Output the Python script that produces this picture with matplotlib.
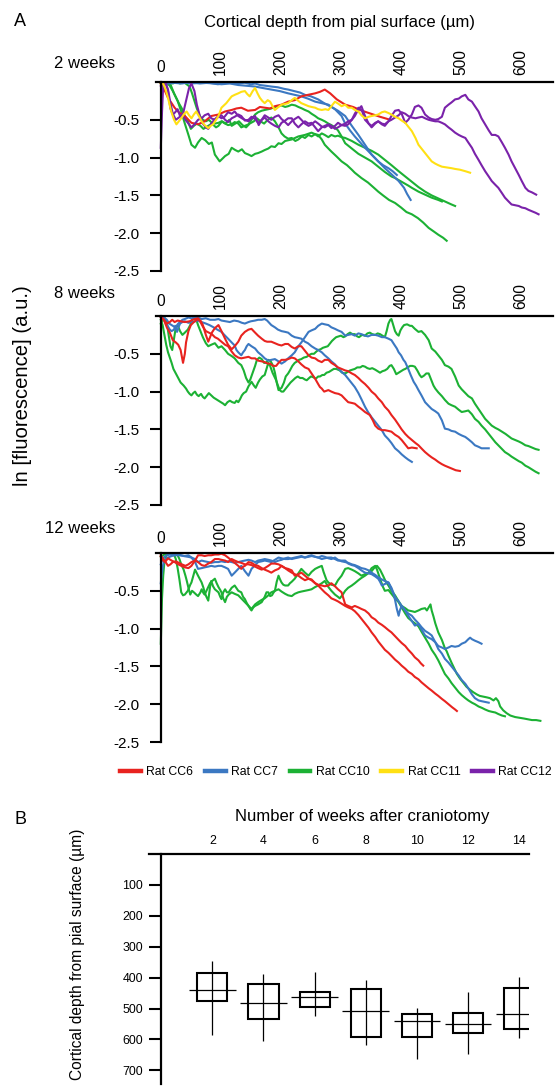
import numpy as np
import matplotlib
matplotlib.use("Agg")
import matplotlib.pyplot as plt
from matplotlib.patches import Rectangle

plt.rcParams['font.family'] = ['Liberation Sans', 'DejaVu Sans']
plt.rcParams['axes.unicode_minus'] = False

# ---------------- data (depth in µm, ln fluorescence) ----------------
RATS = ['Rat CC6', 'Rat CC7', 'Rat CC10', 'Rat CC11', 'Rat CC12']
RAT_COLORS = ['#E8231F', '#3B78C2', '#1CB134', '#FFE014', '#7A22AA']
PANEL_TITLES = ['2 weeks', '8 weeks', '12 weeks']
DEPTH_TICKS = [0, 100, 200, 300, 400, 500, 600]
LN_TICKS = [-0.5, -1.0, -1.5, -2.0, -2.5]

W2_CC6 = [(0,-0.02),(3,-0.05),(7,-0.12),(12,-0.21),(18,-0.28),(23,-0.34),(30,-0.40),(40,-0.45),(51,-0.54),(62,-0.56),
          (73,-0.52),(84,-0.45),(96,-0.43),(107,-0.39),(118,-0.37),(126,-0.35),(134,-0.34),(145,-0.38),(157,-0.37),(165,-0.33),
          (173,-0.34),(182,-0.35),(190,-0.32),(201,-0.30),(212,-0.26),(223,-0.24),(234,-0.19),(245,-0.17),(257,-0.15),(265,-0.13),
          (273,-0.10),(282,-0.15),(293,-0.23),(307,-0.30),(320,-0.33),(335,-0.38),(350,-0.42),(365,-0.46),(382,-0.50)]
W2_CC7_A = [(0,-0.02),(10,0.0),(20,-0.01),(35,-0.02),(50,0.0),(65,-0.02),(80,-0.01),(95,-0.03),(110,-0.01),(125,-0.02),
            (140,-0.01),(150,-0.03),(157,-0.02),(165,-0.04),(175,-0.05),(184,-0.06),(195,-0.07),(205,-0.09),(212,-0.10),(222,-0.12),
            (232,-0.14),(240,-0.17),(250,-0.19),(262,-0.23),(272,-0.28),(284,-0.33),(295,-0.38),(307,-0.45),(318,-0.58),(329,-0.70),
            (340,-0.83),(351,-0.96),(362,-1.05),(373,-1.14),(384,-1.22),(396,-1.31),(405,-1.40),(410,-1.48),(416,-1.56)]
W2_CC7_B = [(0,-0.01),(15,-0.02),(30,0.0),(50,-0.02),(70,-0.01),(90,-0.02),(101,-0.03),(115,-0.02),(129,-0.04),(143,-0.05),
            (157,-0.06),(170,-0.08),(184,-0.10),(198,-0.12),(212,-0.15),(223,-0.17),(234,-0.19),(245,-0.22),(257,-0.26),(268,-0.28),
            (279,-0.30),(290,-0.36),(301,-0.45),(307,-0.55),(315,-0.64),(323,-0.72),(332,-0.80),(340,-0.87),(351,-0.96),(362,-1.05),
            (370,-1.10),(379,-1.14),(386,-1.18),(393,-1.23)]
W2_CC10_A = [(0,0.0),(5,-0.02),(10,0.0),(16,-0.03),(22,-0.15),(28,-0.25),(34,-0.39),(40,-0.55),(46,-0.70),(51,-0.83),
             (57,-0.87),(62,-0.80),(68,-0.74),(74,-0.77),(80,-0.82),(85,-0.80),(90,-0.96),(98,-1.05),(107,-0.98),(113,-0.95),
             (118,-0.87),(124,-0.90),(129,-0.92),(135,-0.89),(140,-0.94),(146,-0.96),(151,-0.98),(157,-0.95),(162,-0.94),(168,-0.92),
             (173,-0.90),(179,-0.88),(184,-0.85),(190,-0.86),(196,-0.81),(201,-0.82),(207,-0.78),(218,-0.76),(229,-0.72),(240,-0.70),
             (251,-0.67),(257,-0.69),(262,-0.70),(268,-0.76),(273,-0.83),(279,-0.88),(284,-0.92),(292,-0.98),(301,-1.05),(310,-1.10),
             (318,-1.16),(323,-1.20),(334,-1.27),(345,-1.33),(355,-1.40),(362,-1.45),(370,-1.50),(380,-1.56),(390,-1.60),(400,-1.66),
             (409,-1.72),(418,-1.75),(428,-1.80),(437,-1.86),(446,-1.93),(455,-1.98),(462,-2.02),(470,-2.06),(476,-2.10)]
W2_CC10_B = [(0,0.0),(5,-0.02),(10,-0.01),(15,-0.05),(20,-0.12),(25,-0.20),(30,-0.28),(35,-0.35),(40,-0.45),(45,-0.52),
             (50,-0.62),(55,-0.58),(60,-0.55),(66,-0.58),(71,-0.62),(77,-0.59),(85,-0.55),(92,-0.60),(96,-0.58),(102,-0.52),
             (108,-0.55),(114,-0.50),(118,-0.58),(124,-0.55),(130,-0.52),(136,-0.57),(142,-0.60),(148,-0.55),(155,-0.52),(160,-0.48),
             (166,-0.52),(172,-0.55),(178,-0.50),(184,-0.47),(190,-0.52),(196,-0.60),(201,-0.68),(206,-0.72),(212,-0.75),(218,-0.74),
             (224,-0.78),(229,-0.76),(235,-0.72),(240,-0.74),(246,-0.70),(251,-0.72),(257,-0.69),(262,-0.72),(268,-0.68),(273,-0.70),
             (279,-0.73),(284,-0.70),(290,-0.72),(295,-0.71),(301,-0.73),(307,-0.74),(318,-0.78),(329,-0.83),(340,-0.87),(351,-0.91),
             (362,-0.96),(373,-1.03),(384,-1.10),(396,-1.18),(407,-1.25),(418,-1.32),(429,-1.39),(440,-1.45),(451,-1.50),(462,-1.54),
             (473,-1.58),(484,-1.62),(490,-1.64)]
W2_CC10_C = [(0,-0.02),(5,0.0),(10,-0.01),(15,0.0),(20,-0.02),(26,0.0),(32,-0.02),(38,0.0),(43,-0.03),(48,-0.06),
             (52,-0.15),(56,-0.25),(60,-0.35),(65,-0.45),(70,-0.50),(75,-0.52),(80,-0.50),(85,-0.54),(90,-0.55),(96,-0.54),
             (101,-0.52),(107,-0.55),(112,-0.57),(118,-0.56),(123,-0.53),(129,-0.55),(134,-0.60),(140,-0.58),(146,-0.56),(151,-0.50),
             (157,-0.43),(162,-0.40),(168,-0.38),(173,-0.37),(179,-0.36),(184,-0.35),(190,-0.33),(196,-0.32),(201,-0.31),(207,-0.33),
             (212,-0.32),(218,-0.30),(224,-0.31),(229,-0.33),(235,-0.35),(240,-0.37),(246,-0.39),(251,-0.42),(257,-0.45),(262,-0.48),
             (268,-0.50),(273,-0.52),(279,-0.55),(284,-0.57),(290,-0.60),(295,-0.64),(301,-0.72),(307,-0.81),(318,-0.88),(329,-0.95),
             (340,-1.00),(351,-1.05),(362,-1.12),(373,-1.19),(384,-1.25),(390,-1.27),(401,-1.32),(412,-1.37),(418,-1.40),(429,-1.45),
             (440,-1.49),(451,-1.53),(462,-1.56),(468,-1.58)]
W2_CC11 = [(0,-0.02),(4,-0.02),(8,-0.10),(12,-0.21),(17,-0.38),(22,-0.50),(26,-0.56),(30,-0.52),(34,-0.48),(39,-0.42),
           (43,-0.39),(47,-0.44),(51,-0.48),(55,-0.43),(59,-0.39),(64,-0.46),(68,-0.52),(73,-0.57),(79,-0.61),(83,-0.58),
           (87,-0.56),(92,-0.50),(96,-0.45),(101,-0.34),(105,-0.31),(109,-0.28),(114,-0.23),(118,-0.19),(123,-0.17),(129,-0.15),
           (134,-0.13),(140,-0.12),(144,-0.16),(148,-0.19),(153,-0.12),(157,-0.08),(161,-0.15),(165,-0.21),(169,-0.25),(173,-0.28),
           (178,-0.24),(182,-0.26),(186,-0.32),(190,-0.37),(196,-0.33),(201,-0.30),(207,-0.29),(212,-0.28),(218,-0.24),(223,-0.21),
           (229,-0.25),(234,-0.28),(240,-0.30),(246,-0.32),(251,-0.33),(257,-0.34),(262,-0.36),(268,-0.37),(274,-0.36),(279,-0.37),
           (284,-0.32),(290,-0.26),(296,-0.29),(301,-0.32),(307,-0.30),(312,-0.34),(318,-0.34),(323,-0.37),(329,-0.39),(334,-0.44),
           (340,-0.48),(346,-0.46),(351,-0.45),(357,-0.44),(362,-0.43),(368,-0.40),(373,-0.39),(379,-0.41),(384,-0.43),(390,-0.46),
           (396,-0.48),(401,-0.51),(407,-0.54),(412,-0.59),(418,-0.65),(424,-0.74),(429,-0.83),(435,-0.89),(440,-0.94),(446,-1.00),
           (451,-1.05),(457,-1.08),(462,-1.10),(468,-1.12),(476,-1.13),(484,-1.14),(490,-1.15),(498,-1.16),(507,-1.18),(515,-1.20)]
W2_CC12_A = [(0,-0.87),(2,-0.40),(4,-0.05),(8,0.0),(12,-0.12),(16,-0.35),(20,-0.43),(24,-0.40),(28,-0.36),(32,-0.45),
             (37,-0.42),(42,-0.25),(47,-0.08),(51,-0.02),(56,-0.12),(60,-0.30),(65,-0.45),(70,-0.55),(75,-0.60),(79,-0.62),
             (84,-0.55),(89,-0.50),(96,-0.45),(101,-0.48),(106,-0.46),(112,-0.40),(118,-0.42),(123,-0.39),(129,-0.45),(135,-0.48),
             (140,-0.50),(146,-0.52),(152,-0.47),(157,-0.45),(163,-0.57),(168,-0.50),(173,-0.47),(179,-0.52),(184,-0.55),(190,-0.58),
             (196,-0.60),(201,-0.54),(207,-0.51),(212,-0.48),(218,-0.48),(223,-0.55),(229,-0.60),(234,-0.56),(240,-0.52),(246,-0.55),
             (251,-0.54),(257,-0.60),(262,-0.65),(268,-0.60),(273,-0.58),(279,-0.56),(284,-0.58),(290,-0.62),(295,-0.60),(301,-0.57),
             (307,-0.55),(312,-0.52),(318,-0.50),(323,-0.45),(329,-0.36),(334,-0.32),(340,-0.45),(346,-0.55),(351,-0.60),(357,-0.55),
             (362,-0.52),(368,-0.56),(373,-0.58),(379,-0.52),(384,-0.45),(390,-0.38),(396,-0.37),(401,-0.42),(407,-0.54),(412,-0.50),
             (418,-0.43),(423,-0.33),(429,-0.31),(434,-0.34),(440,-0.43),(446,-0.47),(451,-0.49),(457,-0.50),(462,-0.49),(468,-0.46),
             (473,-0.34),(479,-0.30),(484,-0.27),(490,-0.23),(496,-0.22),(501,-0.19),(507,-0.17),(512,-0.23),(518,-0.26),(523,-0.32),
             (529,-0.39),(534,-0.48),(540,-0.56),(546,-0.64),(551,-0.70),(557,-0.70),(562,-0.72),(568,-0.80),(573,-0.87),(579,-0.96),
             (584,-1.05),(590,-1.14),(596,-1.23),(601,-1.31),(607,-1.40),(612,-1.44),(618,-1.46),(625,-1.49)]
W2_CC12_B = [(0,-0.05),(4,0.0),(8,-0.02),(12,-0.10),(16,-0.28),(20,-0.42),(25,-0.50),(30,-0.47),(36,-0.44),(41,-0.50),
             (46,-0.55),(51,-0.60),(56,-0.56),(62,-0.50),(68,-0.48),(73,-0.44),(79,-0.42),(84,-0.48),(90,-0.50),(96,-0.46),
             (101,-0.44),(107,-0.50),(112,-0.53),(118,-0.48),(123,-0.46),(129,-0.43),(134,-0.45),(140,-0.51),(146,-0.50),(151,-0.46),
             (157,-0.49),(162,-0.54),(168,-0.50),(173,-0.44),(179,-0.47),(184,-0.50),(190,-0.46),(196,-0.44),(201,-0.49),(207,-0.53),
             (212,-0.57),(218,-0.52),(223,-0.49),(229,-0.46),(234,-0.50),(240,-0.55),(246,-0.58),(251,-0.56),(257,-0.52),(262,-0.55),
             (268,-0.59),(273,-0.60),(279,-0.57),(284,-0.61),(290,-0.58),(295,-0.54),(301,-0.57),(307,-0.58),(312,-0.56),(318,-0.50),
             (323,-0.42),(329,-0.34),(335,-0.38),(340,-0.50),(346,-0.55),(351,-0.58),(357,-0.54),(362,-0.52),(368,-0.55),(373,-0.56),
             (379,-0.52),(384,-0.50),(390,-0.47),(396,-0.44),(401,-0.40),(407,-0.42),(412,-0.45),(418,-0.47),(424,-0.48),(429,-0.47),
             (435,-0.46),(440,-0.48),(446,-0.50),(451,-0.51),(457,-0.52),(462,-0.52),(468,-0.54),(473,-0.56),(479,-0.60),(484,-0.63),
             (490,-0.67),(496,-0.70),(501,-0.72),(507,-0.74),(512,-0.80),(518,-0.87),(523,-0.95),(529,-1.03),(534,-1.10),(540,-1.18),
             (546,-1.25),(551,-1.31),(557,-1.36),(562,-1.40),(568,-1.47),(573,-1.53),(579,-1.58),(584,-1.62),(590,-1.63),(596,-1.64),
             (601,-1.66),(607,-1.67),(612,-1.69),(618,-1.71),(624,-1.73),(629,-1.75)]

W8_CC6_A = [(0,-0.02),(5,-0.05),(10,-0.15),(15,-0.22),(20,-0.32),(25,-0.35),(29,-0.38),(33,-0.45),(37,-0.62),(40,-0.50),
            (42,-0.35),(46,-0.20),(50,-0.12),(55,-0.08),(62,-0.04),(66,-0.06),(70,-0.12),(75,-0.25),(79,-0.34),(82,-0.28),
            (85,-0.22),(90,-0.16),(96,-0.12),(101,-0.20),(107,-0.30),(112,-0.38),(118,-0.44),(123,-0.40),(129,-0.34),(134,-0.26),
            (140,-0.21),(146,-0.18),(151,-0.17),(157,-0.22),(162,-0.26),(168,-0.30),(173,-0.33),(177,-0.34),(184,-0.34),(190,-0.36),
            (196,-0.38),(201,-0.39),(207,-0.37),(212,-0.37),(218,-0.41),(223,-0.43),(229,-0.40),(234,-0.40),(240,-0.46),(246,-0.52),
            (251,-0.55),(257,-0.56),(262,-0.59),(268,-0.61),(273,-0.58),(279,-0.58),(284,-0.62),(290,-0.65),(295,-0.68),(301,-0.70),
            (307,-0.72),(312,-0.73),(318,-0.76),(323,-0.78),(329,-0.82),(334,-0.86),(340,-0.90),(346,-0.95),(351,-1.00),(357,-1.04),
            (362,-1.09),(368,-1.14),(373,-1.20),(379,-1.25),(384,-1.31),(390,-1.37),(396,-1.44),(401,-1.50),(407,-1.56),(412,-1.60),
            (418,-1.64),(424,-1.68),(429,-1.71),(435,-1.76),(440,-1.80),(446,-1.84),(451,-1.87),(457,-1.90),(462,-1.93),(468,-1.96),
            (473,-1.98),(479,-2.00),(485,-2.02),(491,-2.04),(498,-2.05)]
W8_CC6_B = [(0,0.0),(5,-0.05),(10,-0.10),(15,-0.08),(19,-0.05),(23,-0.08),(28,-0.06),(33,-0.07),(40,-0.08),(48,-0.07),
            (53,-0.05),(57,-0.04),(62,-0.03),(66,-0.08),(70,-0.14),(75,-0.20),(80,-0.22),(85,-0.24),(90,-0.28),(95,-0.30),
            (101,-0.34),(107,-0.38),(112,-0.40),(118,-0.47),(123,-0.52),(129,-0.55),(134,-0.56),(140,-0.55),(146,-0.54),(151,-0.56),
            (157,-0.56),(162,-0.59),(168,-0.60),(173,-0.61),(178,-0.63),(182,-0.63),(187,-0.66),(192,-0.66),(196,-0.62),(201,-0.58),
            (207,-0.58),(212,-0.57),(218,-0.55),(223,-0.56),(229,-0.60),(234,-0.64),(240,-0.68),(246,-0.70),(251,-0.76),(257,-0.83),
            (262,-0.90),(265,-0.94),(268,-0.96),(272,-1.00),(279,-0.98),(284,-1.00),(290,-1.02),(296,-1.03),(301,-1.05),(307,-1.10),
            (312,-1.14),(318,-1.15),(323,-1.16),(329,-1.20),(334,-1.23),(340,-1.27),(348,-1.31),(353,-1.38),(357,-1.45),(362,-1.49),
            (368,-1.51),(373,-1.51),(379,-1.52),(384,-1.53),(390,-1.57),(396,-1.60),(401,-1.64),(407,-1.70),(412,-1.75),(418,-1.74),
            (426,-1.75)]
W8_CC7_A = [(0,0.0),(5,-0.02),(10,-0.05),(14,-0.10),(18,-0.12),(22,-0.14),(25,-0.15),(29,-0.10),(32,-0.08),(36,-0.05),
            (40,-0.04),(46,-0.02),(51,-0.03),(57,-0.02),(62,-0.02),(68,-0.04),(75,-0.03),(82,-0.05),(90,-0.05),(96,-0.04),
            (101,-0.06),(108,-0.07),(115,-0.08),(122,-0.06),(129,-0.07),(135,-0.09),(140,-0.10),(146,-0.08),(150,-0.07),(157,-0.06),
            (162,-0.05),(168,-0.05),(173,-0.04),(177,-0.06),(184,-0.12),(190,-0.15),(195,-0.18),(201,-0.20),(207,-0.21),(212,-0.22),
            (218,-0.26),(223,-0.28),(229,-0.29),(234,-0.30),(240,-0.34),(245,-0.36),(251,-0.40),(257,-0.43),(262,-0.45),(268,-0.48),
            (273,-0.52),(279,-0.56),(284,-0.60),(290,-0.64),(295,-0.69),(301,-0.74),(307,-0.78),(312,-0.83),(318,-0.89),(323,-0.94),
            (329,-1.02),(334,-1.10),(340,-1.20),(345,-1.27),(351,-1.34),(357,-1.40),(362,-1.45),(368,-1.51),(373,-1.58),(379,-1.63),
            (384,-1.68),(390,-1.75),(396,-1.79),(401,-1.83),(407,-1.87),(412,-1.90),(418,-1.93)]
W8_CC7_B = [(0,-0.02),(5,-0.05),(9,-0.10),(12,-0.14),(15,-0.18),(18,-0.20),(22,-0.18),(24,-0.13),(27,-0.21),(30,-0.14),
            (32,-0.10),(36,-0.08),(40,-0.07),(46,-0.09),(51,-0.08),(57,-0.07),(62,-0.06),(68,-0.08),(75,-0.10),(81,-0.12),
            (88,-0.15),(94,-0.18),(101,-0.21),(107,-0.26),(112,-0.30),(118,-0.35),(123,-0.39),(126,-0.45),(129,-0.48),(134,-0.52),
            (137,-0.48),(140,-0.45),(143,-0.40),(146,-0.37),(151,-0.40),(157,-0.43),(162,-0.48),(168,-0.52),(173,-0.56),(179,-0.59),
            (184,-0.58),(190,-0.57),(196,-0.60),(201,-0.63),(207,-0.60),(212,-0.56),(218,-0.52),(223,-0.48),(229,-0.40),(234,-0.35),
            (240,-0.28),(246,-0.21),(251,-0.19),(257,-0.17),(262,-0.13),(268,-0.10),(273,-0.11),(279,-0.12),(284,-0.15),(290,-0.17),
            (295,-0.19),(301,-0.21),(307,-0.26),(312,-0.25),(318,-0.24),(323,-0.26),(329,-0.23),(334,-0.24),(340,-0.26),(345,-0.27),
            (351,-0.25),(357,-0.25),(362,-0.26),(368,-0.28),(373,-0.28),(379,-0.30),(384,-0.32),(388,-0.37),(393,-0.43),(396,-0.48),
            (400,-0.52),(404,-0.58),(407,-0.61),(412,-0.70),(416,-0.78),(421,-0.87),(425,-0.92),(429,-0.98),(434,-1.05),(440,-1.14),
            (446,-1.19),(451,-1.23),(457,-1.26),(462,-1.29),(468,-1.38),(473,-1.49),(479,-1.50),(484,-1.52),(490,-1.53),(496,-1.56),
            (501,-1.58),(507,-1.60),(512,-1.63),(518,-1.67),(523,-1.71),(529,-1.73),(534,-1.75),(540,-1.75),(546,-1.75)]
W8_CC10_A = [(0,-0.10),(3,-0.05),(6,-0.02),(10,-0.08),(13,-0.25),(16,-0.40),(19,-0.45),(22,-0.30),(25,-0.15),(28,-0.12),
             (32,-0.20),(36,-0.25),(40,-0.22),(45,-0.18),(49,-0.12),(52,-0.05),(55,-0.03),(58,-0.02),(62,-0.12),(66,-0.20),
             (70,-0.28),(75,-0.36),(79,-0.40),(84,-0.38),(90,-0.36),(96,-0.42),(101,-0.40),(107,-0.45),(112,-0.50),(118,-0.53),
             (123,-0.56),(129,-0.62),(134,-0.65),(138,-0.72),(142,-0.82),(146,-0.88),(149,-0.84),(153,-0.75),(157,-0.66),(160,-0.58),
             (164,-0.55),(168,-0.57),(172,-0.62),(175,-0.62),(179,-0.58),(183,-0.60),(187,-0.66),(190,-0.75),(193,-0.88),(196,-0.98),
             (201,-0.95),(205,-0.88),(208,-0.80),(212,-0.76),(215,-0.72),(219,-0.66),(223,-0.62),(227,-0.60),(230,-0.58),(234,-0.57),
             (238,-0.55),(243,-0.54),(246,-0.52),(251,-0.50),(255,-0.50),(259,-0.47),(262,-0.45),(266,-0.44),(270,-0.42),(274,-0.41),
             (278,-0.40),(282,-0.36),(285,-0.33),(289,-0.30),(292,-0.28),(296,-0.27),(300,-0.26),(304,-0.28),(307,-0.27),(311,-0.24),
             (315,-0.22),(319,-0.24),(323,-0.24),(327,-0.27),(330,-0.28),(335,-0.25),(340,-0.26),(344,-0.23),(348,-0.22),(352,-0.24),
             (357,-0.25),(361,-0.23),(365,-0.24),(369,-0.26),(373,-0.28),(376,-0.20),(379,-0.10),(382,-0.05),(384,-0.04),(387,-0.12),
             (390,-0.20),(393,-0.24),(396,-0.26),(399,-0.19),(402,-0.15),(405,-0.12),(410,-0.11),(415,-0.13),(418,-0.13),(423,-0.17),
             (429,-0.21),(434,-0.20),(440,-0.25),(446,-0.32),(451,-0.43),(457,-0.47),(462,-0.52),(468,-0.58),(473,-0.65),(479,-0.67),
             (484,-0.70),(490,-0.80),(496,-0.92),(501,-0.97),(507,-1.02),(512,-1.06),(518,-1.09),(523,-1.16),(529,-1.23),(535,-1.30),
             (540,-1.36),(546,-1.41),(551,-1.45),(557,-1.48),(562,-1.50),(568,-1.53),(574,-1.56),(579,-1.59),(584,-1.62),(590,-1.64),
             (596,-1.66),(601,-1.68),(607,-1.71),(612,-1.72),(618,-1.74),(624,-1.76),(629,-1.77)]
W8_CC10_B = [(0,-0.05),(3,-0.12),(6,-0.25),(9,-0.38),(12,-0.48),(15,-0.55),(18,-0.62),(21,-0.70),(25,-0.76),(29,-0.82),
             (33,-0.88),(38,-0.92),(42,-0.96),(45,-1.00),(48,-1.03),(51,-1.05),(54,-1.02),(57,-1.00),(60,-1.04),(63,-1.06),
             (67,-1.03),(70,-1.07),(73,-1.09),(77,-1.05),(80,-1.02),(84,-1.05),(88,-1.08),(92,-1.10),(96,-1.12),(100,-1.14),
             (104,-1.16),(107,-1.18),(111,-1.14),(115,-1.12),(119,-1.14),(123,-1.15),(126,-1.12),(129,-1.14),(132,-1.10),(135,-1.05),
             (138,-1.02),(142,-1.00),(146,-0.93),(151,-0.87),(155,-0.92),(158,-0.95),(162,-0.88),(165,-0.84),(169,-0.80),(173,-0.78),
             (176,-0.70),(179,-0.62),(182,-0.66),(186,-0.75),(189,-0.80),(192,-0.85),(195,-0.92),(198,-0.98),(201,-1.00),(204,-1.00),
             (208,-0.96),(212,-0.92),(216,-0.88),(220,-0.85),(224,-0.82),(228,-0.80),(232,-0.82),(236,-0.82),(240,-0.84),(243,-0.85),
             (247,-0.82),(250,-0.80),(254,-0.81),(258,-0.83),(262,-0.80),(265,-0.80),(269,-0.78),(272,-0.78),(276,-0.75),(280,-0.74),
             (284,-0.72),(288,-0.70),(292,-0.70),(295,-0.71),(298,-0.72),(302,-0.75),(307,-0.76),(311,-0.74),(315,-0.72),(319,-0.71),
             (323,-0.70),(327,-0.68),(332,-0.68),(336,-0.66),(340,-0.67),(344,-0.69),(348,-0.70),(352,-0.69),(357,-0.71),(361,-0.73),
             (365,-0.75),(369,-0.73),(373,-0.72),(377,-0.70),(381,-0.66),(384,-0.65),(388,-0.70),(392,-0.77),(396,-0.75),(400,-0.73),
             (404,-0.71),(407,-0.70),(411,-0.68),(415,-0.66),(419,-0.66),(423,-0.67),(427,-0.72),(431,-0.78),(434,-0.81),(438,-0.79),
             (442,-0.76),(446,-0.76),(450,-0.84),(454,-0.92),(457,-0.96),(462,-1.01),(468,-1.06),(473,-1.11),(479,-1.16),(484,-1.18),
             (490,-1.20),(496,-1.24),(501,-1.27),(507,-1.26),(512,-1.25),(518,-1.30),(523,-1.36),(529,-1.40),(534,-1.45),(540,-1.50),
             (545,-1.55),(551,-1.61),(557,-1.67),(562,-1.71),(568,-1.76),(573,-1.80),(579,-1.83),(584,-1.86),(590,-1.89),(596,-1.92),
             (601,-1.94),(607,-1.98),(612,-2.00),(618,-2.03),(624,-2.06),(629,-2.08)]

W12_CC6_A = [(0,-0.05),(4,-0.10),(7,-0.12),(12,-0.07),(18,-0.10),(23,-0.12),(29,-0.15),(34,-0.17),(40,-0.19),(46,-0.20),
             (51,-0.17),(57,-0.10),(62,-0.03),(68,-0.03),(73,-0.04),(79,-0.03),(84,-0.03),(90,-0.02),(96,-0.02),(101,-0.01),
             (107,-0.03),(112,-0.06),(118,-0.10),(123,-0.13),(129,-0.17),(134,-0.21),(137,-0.18),(140,-0.17),(146,-0.12),(151,-0.13),
             (157,-0.16),(162,-0.17),(168,-0.20),(173,-0.22),(179,-0.24),(184,-0.26),(190,-0.23),(196,-0.21),(201,-0.17),(207,-0.20),
             (212,-0.21),(218,-0.23),(223,-0.30),(229,-0.28),(234,-0.26),(240,-0.30),(246,-0.34),(251,-0.36),(257,-0.40),(262,-0.42),
             (268,-0.43),(273,-0.44),(279,-0.43),(284,-0.40),(290,-0.44),(295,-0.48),(301,-0.52),(304,-0.60),(307,-0.68),(312,-0.70),
             (318,-0.72),(323,-0.70),(329,-0.72),(334,-0.74),(340,-0.76),(346,-0.80),(351,-0.85),(357,-0.88),(362,-0.92),(368,-0.95),
             (373,-0.98),(379,-1.02),(384,-1.05),(390,-1.10),(396,-1.15),(401,-1.19),(407,-1.23),(412,-1.28),(418,-1.33),(423,-1.38),
             (429,-1.42),(433,-1.46),(437,-1.49)]
W12_CC6_B = [(0,-0.03),(4,-0.08),(8,-0.12),(12,-0.17),(16,-0.15),(20,-0.12),(25,-0.11),(30,-0.13),(35,-0.15),(41,-0.17),
             (46,-0.15),(51,-0.12),(57,-0.10),(62,-0.12),(68,-0.16),(73,-0.17),(79,-0.14),(84,-0.12),(90,-0.08),(96,-0.08),
             (101,-0.09),(107,-0.10),(112,-0.12),(118,-0.08),(123,-0.10),(129,-0.12),(134,-0.13),(140,-0.15),(146,-0.15),(151,-0.16),
             (157,-0.18),(162,-0.20),(168,-0.22),(173,-0.20),(179,-0.17),(184,-0.14),(190,-0.14),(196,-0.15),(201,-0.17),(207,-0.20),
             (212,-0.23),(218,-0.26),(223,-0.28),(229,-0.30),(234,-0.33),(240,-0.36),(246,-0.34),(251,-0.35),(257,-0.40),(262,-0.43),
             (268,-0.48),(273,-0.52),(279,-0.56),(284,-0.60),(290,-0.62),(295,-0.64),(301,-0.67),(307,-0.70),(312,-0.72),(318,-0.74),
             (323,-0.77),(329,-0.82),(334,-0.87),(340,-0.93),(346,-0.99),(351,-1.05),(357,-1.11),(362,-1.17),(368,-1.23),(373,-1.28),
             (379,-1.32),(384,-1.36),(390,-1.41),(396,-1.45),(401,-1.49),(407,-1.53),(412,-1.57),(418,-1.60),(423,-1.64),(429,-1.67),
             (434,-1.71),(440,-1.75),(446,-1.79),(451,-1.82),(457,-1.86),(462,-1.89),(468,-1.93),(473,-1.96),(479,-2.00),(485,-2.04),
             (490,-2.07),(493,-2.09)]
W12_CC7_A = [(0,-0.40),(2,-0.25),(4,-0.15),(8,-0.08),(12,-0.06),(18,-0.04),(23,-0.03),(30,-0.03),(40,-0.04),(46,-0.03),
             (51,-0.06),(57,-0.12),(62,-0.21),(68,-0.20),(73,-0.19),(79,-0.18),(84,-0.17),(90,-0.18),(96,-0.17),(101,-0.17),
             (107,-0.19),(112,-0.21),(118,-0.30),(123,-0.26),(129,-0.21),(134,-0.17),(140,-0.24),(146,-0.30),(151,-0.21),(157,-0.16),
             (162,-0.12),(168,-0.11),(173,-0.10),(179,-0.11),(184,-0.12),(190,-0.09),(196,-0.06),(201,-0.07),(207,-0.08),(212,-0.08),
             (218,-0.07),(223,-0.06),(229,-0.05),(234,-0.04),(240,-0.06),(246,-0.05),(251,-0.04),(257,-0.05),(262,-0.06),(268,-0.08),
             (273,-0.07),(279,-0.06),(284,-0.06),(290,-0.08),(295,-0.10),(301,-0.10),(307,-0.10),(312,-0.14),(318,-0.16),(323,-0.17),
             (329,-0.20),(334,-0.23),(340,-0.26),(346,-0.27),(351,-0.28),(357,-0.31),(362,-0.34),(365,-0.38),(368,-0.43),(373,-0.41),
             (379,-0.39),(384,-0.46),(387,-0.52),(390,-0.62),(393,-0.74),(396,-0.83),(398,-0.76),(401,-0.70),(407,-0.76),(412,-0.83),
             (418,-0.90),(423,-0.96),(429,-0.94),(434,-1.01),(440,-1.09),(446,-1.12),(451,-1.14),(457,-1.18),(462,-1.23),(468,-1.25),
             (473,-1.27),(479,-1.25),(484,-1.23),(490,-1.24),(496,-1.23),(501,-1.20),(507,-1.18),(512,-1.14),(515,-1.12),(518,-1.14),
             (523,-1.16),(529,-1.18),(534,-1.20)]
W12_CC7_B = [(0,-0.15),(3,-0.08),(6,-0.05),(10,-0.03),(15,-0.02),(20,-0.03),(25,-0.02),(30,-0.02),(38,-0.04),(45,-0.05),
             (51,-0.06),(57,-0.08),(62,-0.12),(68,-0.10),(73,-0.11),(79,-0.12),(84,-0.13),(90,-0.12),(96,-0.12),(101,-0.11),
             (107,-0.12),(112,-0.11),(118,-0.12),(123,-0.13),(129,-0.12),(134,-0.11),(140,-0.10),(146,-0.09),(151,-0.10),(157,-0.12),
             (162,-0.10),(168,-0.09),(173,-0.08),(179,-0.09),(184,-0.10),(190,-0.12),(196,-0.10),(201,-0.09),(207,-0.07),(212,-0.06),
             (218,-0.08),(223,-0.07),(229,-0.06),(234,-0.05),(240,-0.06),(246,-0.04),(251,-0.03),(257,-0.05),(262,-0.06),(268,-0.04),
             (273,-0.05),(279,-0.07),(284,-0.08),(290,-0.06),(295,-0.09),(301,-0.11),(307,-0.12),(312,-0.13),(318,-0.15),(323,-0.16),
             (329,-0.18),(334,-0.20),(340,-0.21),(346,-0.23),(351,-0.26),(357,-0.29),(362,-0.32),(368,-0.35),(373,-0.37),(379,-0.39),
             (384,-0.48),(390,-0.58),(396,-0.64),(401,-0.70),(407,-0.76),(412,-0.80),(418,-0.83),(423,-0.88),(429,-0.93),(434,-0.98),
             (440,-1.03),(446,-1.06),(451,-1.09),(457,-1.18),(462,-1.27),(468,-1.33),(473,-1.40),(479,-1.45),(484,-1.50),(490,-1.56),
             (496,-1.62),(501,-1.68),(507,-1.73),(512,-1.79),(518,-1.87),(523,-1.92),(529,-1.95),(534,-1.96),(540,-1.97),(546,-1.98)]
W12_CC10_A = [(0,-1.20),(1,-0.90),(2,-0.60),(4,-0.30),(6,-0.12),(9,-0.04),(13,0.0),(18,-0.01),(22,-0.02),(25,-0.08),
              (28,-0.20),(31,-0.35),(34,-0.52),(37,-0.56),(40,-0.55),(45,-0.50),(49,-0.42),(51,-0.39),(55,-0.28),(57,-0.22),
              (60,-0.27),(62,-0.30),(66,-0.36),(68,-0.39),(71,-0.46),(73,-0.52),(76,-0.58),(79,-0.63),(82,-0.45),(84,-0.37),
              (87,-0.44),(90,-0.48),(93,-0.50),(96,-0.52),(99,-0.58),(101,-0.61),(104,-0.52),(107,-0.48),(110,-0.52),(113,-0.52),
              (118,-0.46),(123,-0.43),(129,-0.50),(134,-0.52),(137,-0.58),(140,-0.61),(143,-0.66),(146,-0.70),(149,-0.74),(151,-0.76),
              (154,-0.72),(157,-0.70),(162,-0.68),(168,-0.65),(173,-0.58),(176,-0.52),(179,-0.52),(182,-0.57),(185,-0.56),(188,-0.52),
              (190,-0.50),(193,-0.38),(196,-0.30),(198,-0.34),(201,-0.39),(204,-0.42),(207,-0.43),(212,-0.43),(215,-0.40),(218,-0.38),
              (223,-0.34),(229,-0.27),(234,-0.21),(240,-0.26),(246,-0.30),(251,-0.25),(257,-0.21),(262,-0.19),(268,-0.17),(271,-0.25),
              (276,-0.36),(279,-0.39),(284,-0.42),(290,-0.43),(295,-0.36),(301,-0.30),(307,-0.21),(312,-0.20),(318,-0.22),(323,-0.24),
              (329,-0.27),(334,-0.30),(340,-0.28),(346,-0.26),(351,-0.20),(357,-0.17),(360,-0.22),(365,-0.34),(370,-0.45),(373,-0.50),
              (379,-0.49),(385,-0.55),(390,-0.60),(396,-0.65),(401,-0.72),(407,-0.80),(412,-0.86),(418,-0.90),(423,-0.93),(429,-0.97),
              (434,-1.04),(440,-1.12),(446,-1.20),(451,-1.28),(457,-1.35),(462,-1.42),(468,-1.52),(473,-1.60),(479,-1.66),(484,-1.72),
              (490,-1.78),(496,-1.84),(501,-1.88),(507,-1.92),(512,-1.95),(518,-1.98),(523,-2.00),(529,-2.03),(535,-2.05),(540,-2.07),
              (546,-2.09),(551,-2.10),(557,-2.11),(562,-2.13),(568,-2.15),(573,-2.16)]
W12_CC10_B = [(0,-0.05),(4,-0.03),(8,-0.01),(13,0.0),(18,0.0),(23,-0.01),(28,-0.03),(31,-0.08),(34,-0.15),(38,-0.22),
              (41,-0.30),(43,-0.36),(46,-0.46),(49,-0.55),(52,-0.50),(55,-0.52),(59,-0.55),(62,-0.57),(66,-0.52),(68,-0.48),
              (71,-0.53),(73,-0.55),(76,-0.50),(79,-0.45),(82,-0.40),(84,-0.38),(87,-0.36),(90,-0.34),(93,-0.40),(96,-0.45),
              (99,-0.49),(101,-0.52),(104,-0.60),(107,-0.65),(110,-0.58),(113,-0.55),(118,-0.52),(123,-0.54),(129,-0.56),(134,-0.60),
              (140,-0.65),(146,-0.70),(151,-0.74),(157,-0.68),(162,-0.65),(168,-0.62),(173,-0.60),(179,-0.56),(184,-0.52),(190,-0.50),
              (196,-0.48),(201,-0.51),(207,-0.54),(212,-0.56),(218,-0.57),(223,-0.54),(229,-0.52),(234,-0.51),(240,-0.50),(246,-0.49),
              (251,-0.48),(257,-0.45),(262,-0.43),(268,-0.40),(273,-0.37),(279,-0.45),(284,-0.50),(290,-0.55),(295,-0.58),(298,-0.60),
              (303,-0.55),(307,-0.50),(312,-0.46),(318,-0.43),(323,-0.40),(329,-0.36),(334,-0.33),(340,-0.30),(345,-0.27),(350,-0.25),
              (355,-0.20),(360,-0.17),(365,-0.22),(370,-0.30),(374,-0.37),(379,-0.43),(384,-0.50),(390,-0.56),(396,-0.64),(401,-0.70),
              (407,-0.73),(412,-0.76),(418,-0.77),(423,-0.78),(429,-0.76),(434,-0.74),(440,-0.73),(443,-0.76),(446,-0.72),(449,-0.68),
              (451,-0.76),(454,-0.84),(457,-0.93),(462,-1.05),(468,-1.15),(473,-1.26),(476,-1.30),(479,-1.36),(484,-1.45),(490,-1.55),
              (493,-1.60),(498,-1.66),(504,-1.72),(509,-1.77),(515,-1.81),(520,-1.84),(526,-1.87),(531,-1.89),(537,-1.90),(543,-1.91),
              (548,-1.92),(554,-1.95),(558,-1.92),(562,-1.96),(565,-2.03),(570,-2.08),(576,-2.12),(582,-2.15),(590,-2.17),(598,-2.18),
              (605,-2.19),(612,-2.20),(618,-2.21),(625,-2.21),(632,-2.22)]

# traces per panel: (rat index, trace)
PANEL_TRACES = [
    [(2, W2_CC10_A), (2, W2_CC10_B), (2, W2_CC10_C), (1, W2_CC7_A), (1, W2_CC7_B),
     (0, W2_CC6), (4, W2_CC12_A), (4, W2_CC12_B), (3, W2_CC11)],
    [(2, W8_CC10_A), (2, W8_CC10_B), (1, W8_CC7_A), (1, W8_CC7_B), (0, W8_CC6_A), (0, W8_CC6_B)],
    [(2, W12_CC10_A), (2, W12_CC10_B), (1, W12_CC7_A), (1, W12_CC7_B), (0, W12_CC6_A), (0, W12_CC6_B)],
]

# Panel B: cortical depth summary per week
WEEKS = [2, 4, 6, 8, 10, 12, 14]
BOX_TOP = [385, 421, 447, 438, 518, 513, 434]
BOX_BOTTOM = [477, 535, 495, 592, 592, 579, 566]
MEDIAN = [440, 481, 464, 509, 541, 549, 517]
WHISKER_TOP = [346, 389, 381, 408, 497, 446, 398]
WHISKER_BOTTOM = [587, 606, 524, 618, 663, 646, 595]
DEPTH_B_TICKS = [100, 200, 300, 400, 500, 600, 700]

# ---------------- figure ----------------
W, H = 556, 1086
fig = plt.figure(figsize=(W / 100, H / 100), dpi=100)


def axes_px(left, top, right, bottom):
    return fig.add_axes([left / W, 1 - bottom / H, (right - left) / W, (bottom - top) / H])


panel_tops = [82, 316, 553]
legend_handles = {}
for pi, top in enumerate(panel_tops):
    ax = axes_px(156, top, 553, top + 189)
    ax.set_xlim(-8, 653)
    ax.set_ylim(-2.5, 0)
    for ri, tr in PANEL_TRACES[pi]:
        arr = np.array(tr, dtype=float)
        ln, = ax.plot(arr[:, 0], arr[:, 1], color=RAT_COLORS[ri], lw=1.5, solid_joinstyle='round')
        if ri not in legend_handles:
            legend_handles[ri] = ln
    ax.spines['left'].set_position(('data', 0))
    ax.spines['right'].set_visible(False)
    ax.spines['bottom'].set_visible(False)
    for s in ('left', 'top'):
        ax.spines[s].set_linewidth(1.6)
    ax.xaxis.tick_top()
    ax.set_xticks(DEPTH_TICKS)
    ax.set_xticklabels([str(v) for v in DEPTH_TICKS])
    for lbl in ax.get_xticklabels()[1:]:
        lbl.set_rotation(90)
    ax.tick_params(axis='x', length=0, pad=5, labelsize=11.2)
    ax.set_yticks(LN_TICKS)
    ax.set_yticklabels(['%.1f' % v for v in LN_TICKS])
    ax.tick_params(axis='y', length=8, width=1.5, pad=7, labelsize=11)
    ax.set_facecolor('none')
    fig.text(115 / W, 1 - [63, 294, 529][pi] / H, PANEL_TITLES[pi], fontsize=12,
             ha='right', va='center')

fig.text(339 / W, 1 - 22 / H, 'Cortical depth from pial surface (µm)', fontsize=12,
         ha='center', va='center')
fig.text(20 / W, 1 - 22 / H, 'A', fontsize=13, ha='center', va='center')
fig.text(23 / W, 1 - 386 / H, 'ln [fluorescence] (a.u.)', fontsize=14.6, rotation=90,
         ha='center', va='center')

leg = fig.legend([legend_handles[i] for i in range(5)], RATS, loc='center',
                 bbox_to_anchor=(336 / W, 1 - 772 / H), ncol=5, frameon=False,
                 fontsize=8.8, handlelength=1.7, handletextpad=0.45, columnspacing=0.95,
                 borderpad=0, borderaxespad=0)
for h in leg.legend_handles:
    h.set_linewidth(3.2)

# ---------------- panel B ----------------
axb = axes_px(149, 854, 529, 1084)
axb.set_xlim(-0.48, 14.39)
axb.set_ylim(744, 0)
for w, q1, q3, med, lo, hi in zip(WEEKS, BOX_TOP, BOX_BOTTOM, MEDIAN, WHISKER_TOP, WHISKER_BOTTOM):
    axb.add_patch(Rectangle((w - 0.59, q1), 1.18, q3 - q1, fill=False, lw=1.5, ec='black'))
    axb.vlines(w, lo, hi, color='black', lw=0.9)
    axb.hlines(med, w - 0.91, w + 0.91, color='black', lw=0.9)
axb.spines['left'].set_position(('data', 0))
axb.spines['right'].set_visible(False)
axb.spines['bottom'].set_visible(False)
for s in ('left', 'top'):
    axb.spines[s].set_linewidth(1.6)
axb.xaxis.tick_top()
axb.set_xticks(WEEKS)
axb.set_xticklabels([str(w) for w in WEEKS])
axb.tick_params(axis='x', length=0, pad=5, labelsize=8.9)
axb.set_yticks(DEPTH_B_TICKS)
axb.set_yticklabels([str(v) for v in DEPTH_B_TICKS])
axb.tick_params(axis='y', length=9, width=1.5, pad=4, labelsize=8.9)
fig.text(362 / W, 1 - 816 / H, 'Number of weeks after craniotomy', fontsize=12,
         ha='center', va='center')
fig.text(21 / W, 1 - 820 / H, 'B', fontsize=13, ha='center', va='center')
fig.text(78 / W, 1 - 954 / H, 'Cortical depth from pial surface (µm)', fontsize=11.2,
         rotation=90, ha='center', va='center')

fig.savefig('out.png', dpi=100)
